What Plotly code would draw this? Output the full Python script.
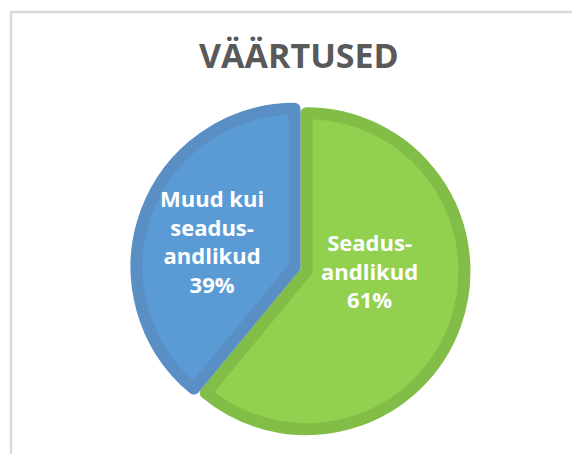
import plotly.graph_objects as go

# data
categories = ["Seadus-andlikud", "Muud kui seadus-andlikud"]
label_lines = [["Seadus-", "andlikud"], ["Muud kui", "seadus-", "andlikud"]]
values = [61, 39]
fill_colors = ["#92D050", "#5B9BD5"]
line_colors = ["#82BD47", "#5A8FC6"]
title_text = "VÄÄRTUSED"

# the page body adds an 8px margin, so the figure is 8px smaller than the window
OFF = 8
W, H = 580 - OFF, 454 - OFF

def px_x(x):
    return (x - OFF) / W

def px_y(y):
    return 1 - (y - OFF) / H

cx, cy, R = 300.5, 269, 158
pull = 0.04
half = R * (1 + pull)

fig = go.Figure()
fig.add_trace(go.Pie(
    labels=categories,
    values=values,
    sort=False,
    direction="clockwise",
    rotation=0,
    pull=[pull, pull],
    textinfo="none",
    hoverinfo="label+percent",
    marker=dict(colors=fill_colors, line=dict(color=line_colors, width=12)),
    domain=dict(x=[px_x(cx - half), px_x(cx + half)], y=[px_y(cy + half), px_y(cy - half)]),
    showlegend=False,
))

total = sum(values)
label_pos = [(369, 270.5), (212, 240.5)]
annotations = []
for lines, v, (lx, ly) in zip(label_lines, values, label_pos):
    txt = "<br>".join(lines + [f"{round(100 * v / total)}%"])
    annotations.append(dict(
        text=txt, x=px_x(lx), y=px_y(ly), xref="paper", yref="paper",
        xanchor="center", yanchor="middle", showarrow=False, align="center",
        font=dict(family="Open Sans", size=22, color="white", weight="bold"),
    ))
annotations.append(dict(
    text=f"<b>{title_text}</b>", x=px_x(298.5), y=px_y(55), xref="paper", yref="paper",
    xanchor="center", yanchor="middle", showarrow=False,
    font=dict(family="Open Sans", size=34, color="#595959"),
))

fig.update_layout(
    width=W, height=H,
    margin=dict(l=0, r=0, t=0, b=0),
    paper_bgcolor="white",
    plot_bgcolor="white",
    annotations=annotations,
    shapes=[dict(type="rect", xref="paper", yref="paper",
                 x0=px_x(11), x1=1.2, y0=-0.2, y1=px_y(12),
                 line=dict(color="#D9D9D9", width=2.5), layer="below")],
)

fig.write_html("out.html")
